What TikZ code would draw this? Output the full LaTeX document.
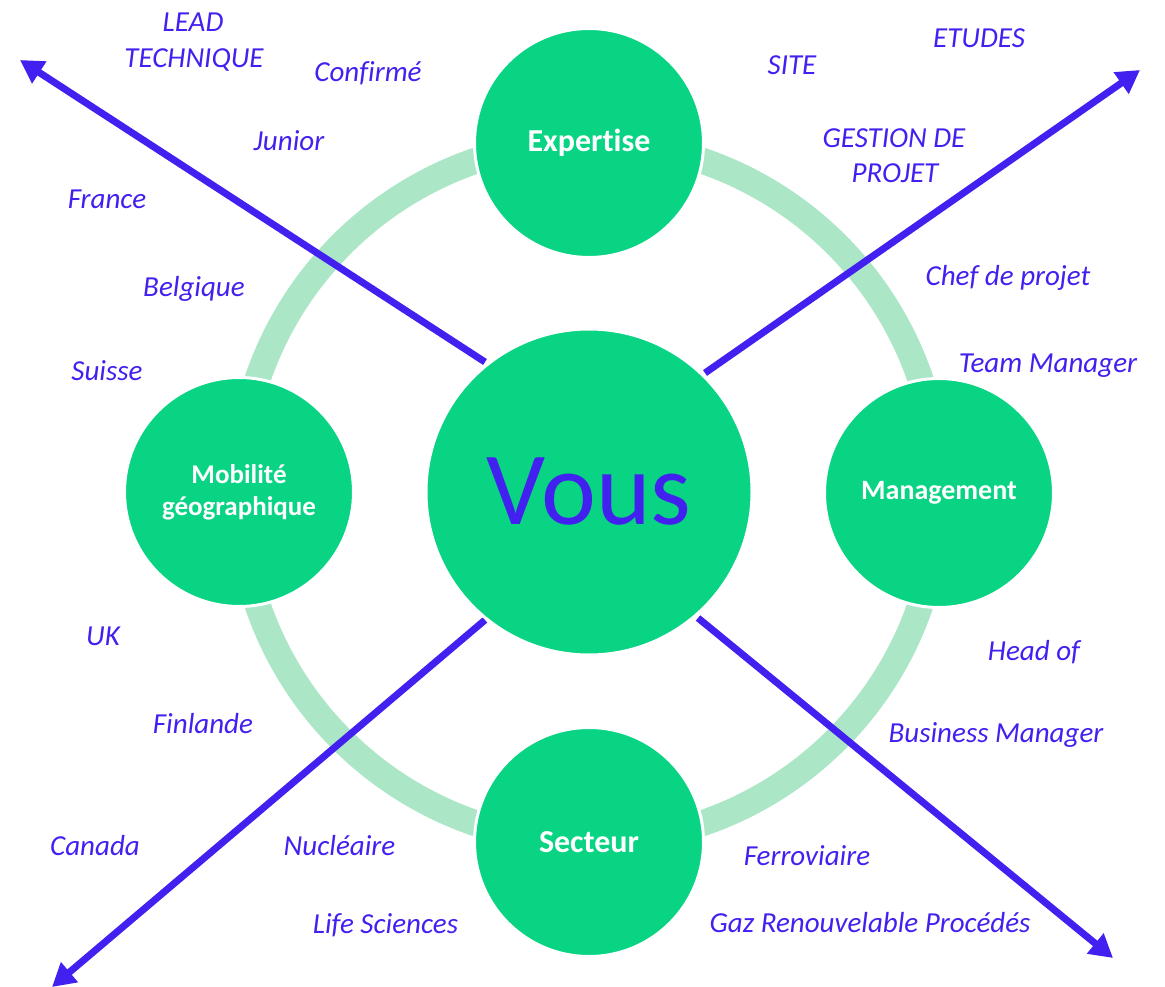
\documentclass[tikz,border=0pt]{standalone}
\usepackage{fontspec}
\setmainfont{Carlito}[RawFeature=-liga]
\usetikzlibrary{arrows.meta}
\definecolor{vgreen}{HTML}{08D484}
\definecolor{vring}{HTML}{ABE7C7}
\definecolor{vblue}{HTML}{4220F0}
\begin{document}
\begin{tikzpicture}[x=1pt,y=-1pt,
  lab/.style={font=\fontsize{29}{34}\selectfont\itshape, text=vblue, anchor=base, inner sep=0pt},
  hub/.style={circle, fill=vgreen, draw=white, line width=3pt, minimum size=229pt, inner sep=0pt, text=white, font=\fontsize{28}{31}\selectfont\bfseries, align=center},
  bighub/.style={hub, font=\fontsize{32}{36}\selectfont\bfseries},
  ray/.style={draw=vblue, line width=7pt, -{Triangle[length=23pt,width=25pt]}}
]
\useasboundingbox (0,0) rectangle (1165,987);
% ring
\coordinate (ctr) at (589,492);
\draw[vring, line width=26pt] (ctr) circle[radius=350pt];
% satellite circles
\node[bighub] (expertise) at (589,143) {Expertise};
\node[hub] (management) at (939,493) {Management};
\node[bighub] (secteur) at (589,842) {Secteur};
\node[hub, font=\fontsize{27}{32}\selectfont\bfseries] (mobilite) at (239,492) {Mobilité\\géographique};
% rays
\coordinate (s1) at (485,362); \coordinate (e1) at (20,60);
\coordinate (s2) at (705,373); \coordinate (e2) at (1140,70);
\coordinate (s3) at (485,620); \coordinate (e3) at (52,987);
\coordinate (s4) at (698,618); \coordinate (e4) at (1113,958);
\draw[ray] (s1) -- (e1);
\draw[ray] (s2) -- (e2);
\draw[ray] (s3) -- (e3);
\draw[ray] (s4) -- (e4);
% centre
\node[circle, fill=vgreen, draw=white, line width=3pt, minimum size=326pt, inner sep=0pt, text=vblue, font=\fontsize{104}{104}\selectfont] (vous) at (ctr) {Vous};
% labels
\node[lab] (lead1) at (193,31.7) {LEAD};
\node[lab] (lead2) at (194,68) {TECHNIQUE};
\node[lab] (confirme) at (368,82) {Confirmé};
\node[lab] (junior) at (289,151) {Junior};
\node[lab] (france) at (107,209) {France};
\node[lab] (belgique) at (194,297) {Belgique};
\node[lab] (suisse) at (107,380) {Suisse};
\node[lab] (uk) at (103,645) {UK};
\node[lab] (finlande) at (203,733) {Finlande};
\node[lab] (canada) at (95,855) {Canada};
\node[lab] (nucleaire) at (339.5,855) {Nucléaire};
\node[lab] (life) at (385.5,933) {Life Sciences};
\node[lab] (ferro) at (807,865) {Ferroviaire};
\node[lab] (gaz) at (870,932) {Gaz Renouvelable Procédés};
\node[lab] (business) at (996,742) {Business Manager};
\node[lab] (head) at (1034,660) {Head of};
\node[lab] (team) at (1048,372) {Team Manager};
\node[lab] (chef) at (1008,285) {Chef de projet};
\node[lab] (gestion1) at (894,148) {GESTION DE};
\node[lab] (gestion2) at (895,183) {PROJET};
\node[lab] (site) at (792,75) {SITE};
\node[lab] (etudes) at (979,48) {ETUDES};
\end{tikzpicture}
\end{document}
